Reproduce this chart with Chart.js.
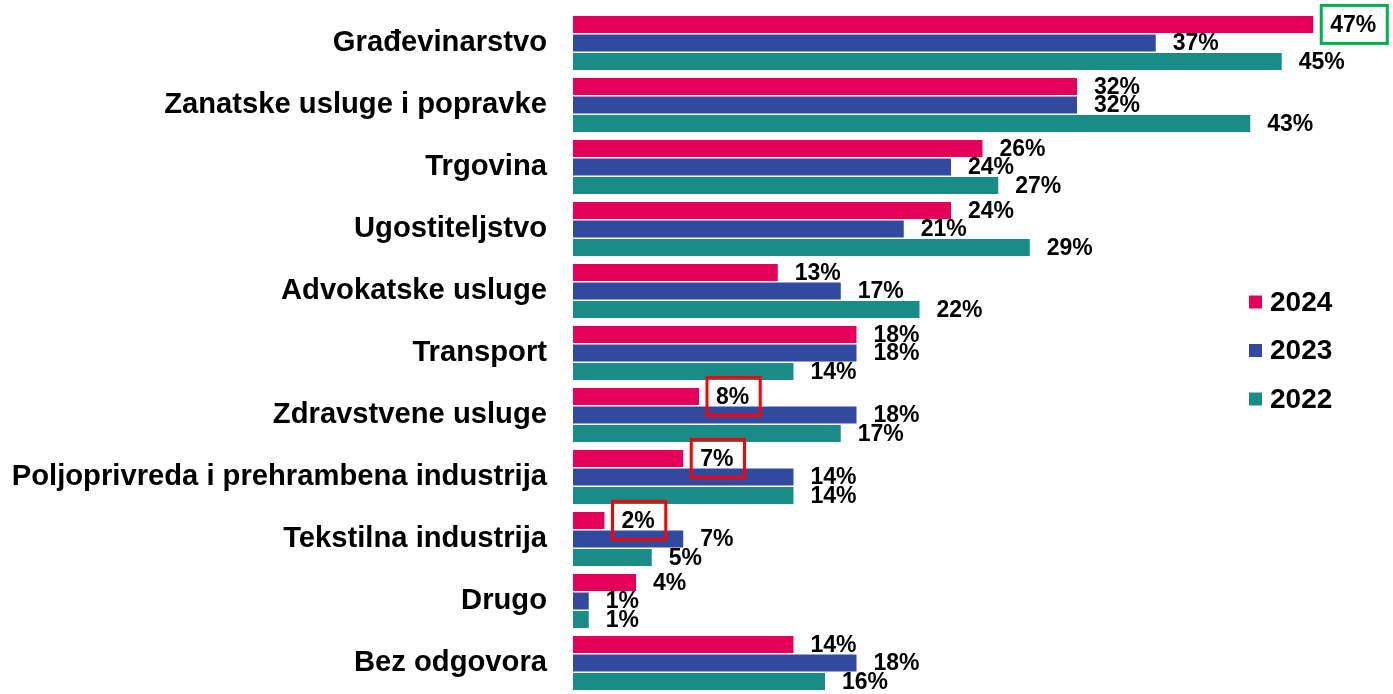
<!DOCTYPE html>
<html>
<head>
<meta charset="utf-8">
<script src="https://cdn.jsdelivr.net/npm/chart.js@4.4.1/dist/chart.umd.min.js"></script>
<style>
  html, body { margin: 0; padding: 0; background: #fff; }
  #wrap { position: relative; width: 1393px; height: 694px; }
</style>
</head>
<body>
<div id="wrap"><canvas id="c"></canvas></div>
<script>
const categories = [
  "Građevinarstvo",
  "Zanatske usluge i popravke",
  "Trgovina",
  "Ugostiteljstvo",
  "Advokatske usluge",
  "Transport",
  "Zdravstvene usluge",
  "Poljoprivreda i prehrambena industrija",
  "Tekstilna industrija",
  "Drugo",
  "Bez odgovora"
];
const seriesNames = ["2024", "2023", "2022"];
const values2024 = [47, 32, 26, 24, 13, 18, 8, 7, 2, 4, 14];
const values2023 = [37, 32, 24, 21, 17, 18, 18, 14, 7, 1, 18];
const values2022 = [45, 43, 27, 29, 22, 14, 17, 14, 5, 1, 16];
const colors = ["#E5005A", "#31499E", "#1A8C87"];
// highlighted labels: [series index, category index, color]
const highlights = [
  [0, 0, "#00B050"],
  [0, 6, "#FF0000"],
  [0, 7, "#FF0000"],
  [0, 8, "#FF0000"]
];

const FONT = "Arial, 'Liberation Sans', sans-serif";

const labelPlugin = {
  id: 'valueLabels',
  afterDatasetsDraw(chart) {
    const ctx = chart.ctx;
    ctx.save();
    ctx.font = "bold 23px " + FONT;
    ctx.fillStyle = "#000";
    ctx.textAlign = "left";
    ctx.textBaseline = "middle";
    chart.data.datasets.forEach((ds, di) => {
      const meta = chart.getDatasetMeta(di);
      meta.data.forEach((el, i) => {
        const txt = ds.data[i] + "%";
        const x = el.x + 17;
        const y = el.y + 1;
        ctx.fillText(txt, x, y);
        const h = highlights.find(hl => hl[0] === di && hl[1] === i);
        if (h) {
          const w = ctx.measureText(txt).width;
          ctx.save();
          ctx.strokeStyle = h[2];
          ctx.lineWidth = 3;
          ctx.strokeRect(x - 9, el.y - 19, w + 20, 38);
          ctx.restore();
        }
      });
    });
    ctx.restore();
  }
};

const legendPlugin = {
  id: 'customLegend',
  afterDraw(chart) {
    const ctx = chart.ctx;
    ctx.save();
    ctx.font = "bold 28px " + FONT;
    ctx.textAlign = "left";
    ctx.textBaseline = "middle";
    const x0 = 1249, y0 = 302, step = 48.5;
    chart.data.datasets.forEach((ds, di) => {
      const y = y0 + di * step;
      ctx.fillStyle = ds.backgroundColor;
      ctx.fillRect(x0, y - 6.5, 13, 13);
      ctx.fillStyle = "#000";
      ctx.fillText(ds.label, x0 + 21, y + 1);
    });
    ctx.restore();
  }
};

new Chart(document.getElementById('c'), {
  type: 'bar',
  data: {
    labels: categories,
    datasets: [
      { label: seriesNames[0], data: values2024, backgroundColor: colors[0] },
      { label: seriesNames[1], data: values2023, backgroundColor: colors[1] },
      { label: seriesNames[2], data: values2022, backgroundColor: colors[2] }
    ]
  },
  options: {
    indexAxis: 'y',
    responsive: true,
    maintainAspectRatio: false,
    animation: false,
    datasets: { bar: { categoryPercentage: 0.9, barPercentage: 0.915 } },
    layout: { padding: { left: 0, right: 16.75, top: 12, bottom: 0 } },
    plugins: { legend: { display: false }, tooltip: { enabled: false } },
    scales: {
      x: { display: false, min: 0, max: 51 },
      y: {
        grid: { display: false, drawTicks: false, tickLength: 0 },
        border: { display: false },
        ticks: {
          padding: 26,
          color: "#000",
          font: { family: FONT, size: 29.2, weight: 'bold' }
        },
        afterFit(scale) {
          scale.width = 573;
          scale.paddingTop = 0;
          scale.paddingBottom = 0;
        }
      }
    }
  },
  plugins: [labelPlugin, legendPlugin]
});
</script>
</body>
</html>
